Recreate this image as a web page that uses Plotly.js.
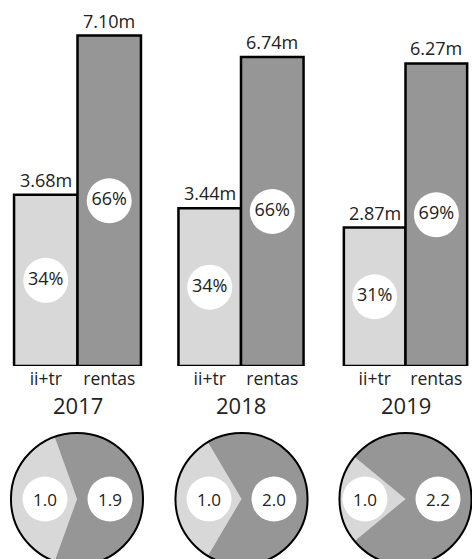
<!DOCTYPE html>
<html><head><meta charset="utf-8">
<script src="https://cdn.plot.ly/plotly-3.0.1.min.js"></script>
<style>html,body{margin:0;padding:0;overflow:hidden;background:#fff}
#wrap{width:472px;height:559px;overflow:hidden}</style>
</head><body><div id="wrap"><div id="chart" style="width:472px;height:566px"></div></div>
<script>
// ---- data ----
const years = ["2017", "2018", "2019"];
const categories = ["ii+tr", "rentas"];
const iiTr = [3.68, 3.44, 2.87];          // millions
const rentas = [7.10, 6.74, 6.27];        // millions
const iiTrShare = ["34%", "34%", "31%"];
const rentasShare = ["66%", "66%", "69%"];
const ratioIiTr = ["1.0", "1.0", "1.0"];
const ratioRentas = ["1.9", "2.0", "2.2"];
const pieIiTr = [39, 33, 22];             // slice sizes as drawn
const pieRentas = [61, 67, 78];

// ---- layout helpers (positions / styles) ----
const W = 472, H = 566;
const LIGHT = "#d8d8d8", DARK = "#969696", INK = "#222222";
const FONT = "Open Sans, sans-serif";
const xDomains = [[11, 144], [175, 307], [340, 471]];
const yTopMax = [7.433, 7.546, 7.171];
const barDomainY = [1 - 366 / H, 1 - 20 / H];
const yearY = 405;
const pieCenters = [77, 241.5, 405.5];
const pieCy = 499, pieR = 66;
const labelPx = [[45, 110], [209, 274], [365, 438]];

const traces = [];
const layout = {
  width: W, height: H,
  margin: {l: 0, r: 0, t: 0, b: 0},
  paper_bgcolor: "#fff", plot_bgcolor: "rgba(0,0,0,0)",
  bargap: 0, showlegend: false,
  font: {family: FONT, color: INK},
  shapes: [], annotations: []
};

years.forEach((yr, i) => {
  const s = i === 0 ? "" : String(i + 1);
  const xa = "x" + s, ya = "y" + s;
  const vals = [iiTr[i], rentas[i]];
  traces.push({
    type: "bar", x: categories, y: vals, xaxis: xa, yaxis: ya,
    marker: {color: [LIGHT, DARK], line: {color: "#000", width: 2.5}},
    hoverinfo: "none"
  });
  traces.push({
    type: "scatter", mode: "markers+text", x: categories,
    y: vals.map(v => v / 2), xaxis: xa, yaxis: ya,
    marker: {size: 45, color: "#fff", line: {width: 0}},
    text: [iiTrShare[i], rentasShare[i]], textposition: "middle center",
    textfont: {family: FONT, size: 18, color: INK}, hoverinfo: "none", cliponaxis: false
  });
  categories.forEach((c, k) => {
    layout.annotations.push({
      xref: xa, yref: ya, x: c, y: vals[k], yshift: 15,
      xanchor: "center", yanchor: "middle", showarrow: false,
      text: vals[k].toFixed(2) + "m", font: {family: FONT, size: 18, color: INK}
    });
  });
  layout.annotations.push({
    xref: xa + " domain", yref: "paper", x: 0.5, y: 1 - yearY / H,
    xanchor: "center", yanchor: "middle", showarrow: false,
    text: yr, font: {family: FONT, size: 22, color: INK}
  });
  layout["xaxis" + s] = {
    domain: [xDomains[i][0] / W, xDomains[i][1] / W], anchor: ya, type: "category",
    showgrid: false, zeroline: false, showline: false, ticks: "",
    tickfont: {family: FONT, size: 17.5, color: INK},
    fixedrange: true
  };
  layout["yaxis" + s] = {
    domain: barDomainY, anchor: xa, range: [0, yTopMax[i]], visible: false, fixedrange: true
  };
  const cx = pieCenters[i];
  const dom = {x: [(cx - pieR) / W, (cx + pieR) / W], y: [1 - (pieCy + pieR) / H, 1 - (pieCy - pieR) / H]};
  const frac = pieIiTr[i] / (pieIiTr[i] + pieRentas[i]);
  traces.push({
    type: "pie", values: [pieIiTr[i], pieRentas[i]], labels: categories,
    marker: {colors: [LIGHT, DARK], line: {width: 0}},
    sort: false, direction: "clockwise", rotation: 270 - 180 * frac,
    textinfo: "none", hoverinfo: "none", domain: dom
  });
  traces.push({
    type: "pie", values: [1], labels: ["outline"],
    marker: {colors: ["rgba(0,0,0,0)"], line: {color: "#000", width: 2}},
    textinfo: "none", hoverinfo: "none", domain: dom
  });
  const txt = [ratioIiTr[i], ratioRentas[i]];
  labelPx[i].forEach((px, k) => {
    layout.shapes.push({
      type: "circle", layer: "above", xref: "paper", yref: "paper",
      xsizemode: "pixel", ysizemode: "pixel",
      xanchor: px / W, yanchor: 1 - pieCy / H,
      x0: -22.5, x1: 22.5, y0: -22.5, y1: 22.5,
      fillcolor: "#fff", line: {width: 0}
    });
    layout.annotations.push({
      xref: "paper", yref: "paper", x: px / W, y: 1 - pieCy / H,
      xanchor: "center", yanchor: "middle", showarrow: false,
      text: txt[k], font: {family: FONT, size: 17, color: INK}
    });
  });
});

Plotly.newPlot("chart", traces, layout, {displayModeBar: false, staticPlot: true});
</script></body></html>
